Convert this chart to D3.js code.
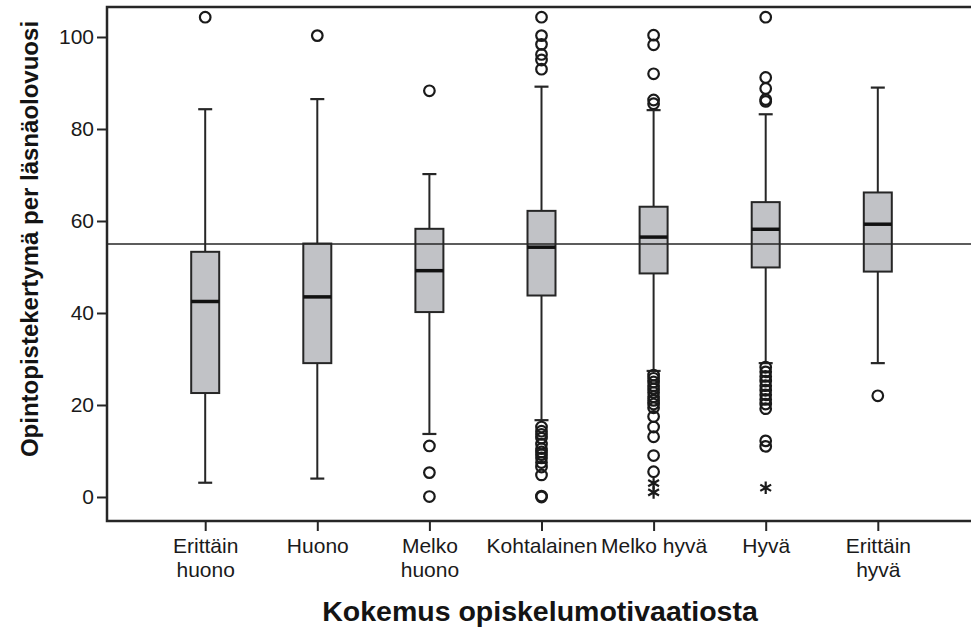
<!DOCTYPE html>
<html>
<head>
<meta charset="utf-8">
<script src="https://cdn.jsdelivr.net/npm/d3@7"></script>
<style>
  body { margin: 0; background: #fff; }
  svg { display: block; }
</style>
</head>
<body>
<svg id="chart" width="971" height="633"></svg>
<script>
// categories (x axis), two-line labels split with "|"
const categories = ["Erittäin|huono", "Huono", "Melko|huono", "Kohtalainen", "Melko hyvä", "Hyvä", "Erittäin|hyvä"];

// box statistics per category
const whiskerLow  = [3.1, 4.0, 13.7, 16.7, 27.4, 29.1, 29.1];
const q1          = [22.6, 29.1, 40.2, 43.8, 48.6, 49.9, 49.0];
const median      = [42.5, 43.5, 49.2, 54.3, 56.5, 58.2, 59.3];
const q3          = [53.3, 55.1, 58.3, 62.2, 63.1, 64.1, 66.2];
const whiskerHigh = [84.3, 86.5, 70.2, 89.2, 84.1, 83.2, 89.0];

// outliers (circles) and extremes (stars)
const outliers = [
  [104.3],
  [100.3],
  [88.3, 11.1, 5.3, 0.1],
  [104.3, 100.3, 98.4, 96.2, 95.0, 93.0,
   15.2, 14.3, 13.6, 12.8, 11.5, 10.5, 9.8, 9.2, 8.5, 7.5, 6.5, 4.8, 0.2, 0],
  [100.4, 98.3, 92.0, 86.3, 85.5,
   26.5, 25.8, 25.0, 24.2, 23.5, 22.7, 21.8, 21.0, 20.2, 19.4, 17.5, 15.2, 13.1, 9.0, 5.5],
  [104.3, 91.2, 88.8, 86.4, 86.0,
   28.2, 27.2, 26.2, 25.2, 24.2, 23.2, 22.2, 21.2, 20.2, 19.2, 12.2, 11.0],
  [22.0]
];
const extremes = [[], [], [], [], [3.0, 1.0], [2.0], []];

const referenceValue = 55;
const yTicks = [0, 20, 40, 60, 80, 100];

const svg = d3.select("#chart");
const m = { left: 107, top: 7, bottom: 521, right: 971 };

const x = d3.scalePoint()
  .domain(categories)
  .range([m.left, 976])
  .padding(0.876);

const y = d3.scaleLinear()
  .domain([-5.22, 106.52])
  .range([m.bottom, m.top]);

const boxW = 28, capW = 14;
const ink = "#262626";

const boxes = svg.append("g").selectAll("g")
  .data(categories)
  .join("g")
  .attr("transform", d => `translate(${x(d)},0)`);

// whiskers
boxes.append("line")
  .attr("y1", (d, i) => y(whiskerLow[i])).attr("y2", (d, i) => y(q1[i]))
  .attr("stroke", ink).attr("stroke-width", 2);
boxes.append("line")
  .attr("y1", (d, i) => y(q3[i])).attr("y2", (d, i) => y(whiskerHigh[i]))
  .attr("stroke", ink).attr("stroke-width", 2);
boxes.append("line")
  .attr("x1", -capW / 2).attr("x2", capW / 2)
  .attr("y1", (d, i) => y(whiskerLow[i])).attr("y2", (d, i) => y(whiskerLow[i]))
  .attr("stroke", ink).attr("stroke-width", 2.2);
boxes.append("line")
  .attr("x1", -capW / 2).attr("x2", capW / 2)
  .attr("y1", (d, i) => y(whiskerHigh[i])).attr("y2", (d, i) => y(whiskerHigh[i]))
  .attr("stroke", ink).attr("stroke-width", 2.2);

// boxes
boxes.append("rect")
  .attr("x", -boxW / 2).attr("width", boxW)
  .attr("y", (d, i) => y(q3[i]))
  .attr("height", (d, i) => y(q1[i]) - y(q3[i]))
  .attr("fill", "#c1c2c6")
  .attr("stroke", ink).attr("stroke-width", 2);

// reference line, drawn over the boxes
svg.append("line")
  .attr("x1", m.left).attr("x2", m.right)
  .attr("y1", y(referenceValue)).attr("y2", y(referenceValue))
  .attr("stroke", ink).attr("stroke-width", 1.7);

// medians
boxes.append("line")
  .attr("x1", -boxW / 2).attr("x2", boxW / 2)
  .attr("y1", (d, i) => y(median[i])).attr("y2", (d, i) => y(median[i]))
  .attr("stroke", "#111").attr("stroke-width", 3.5);

// outliers
boxes.selectAll("circle")
  .data((d, i) => outliers[i])
  .join("circle")
  .attr("cy", v => y(v))
  .attr("r", 5.3)
  .attr("fill", "none")
  .attr("stroke", "#1a1a1a").attr("stroke-width", 2.2);

const star = d3.symbol().type(d3.symbolAsterisk).size(110);
boxes.selectAll("path.star")
  .data((d, i) => extremes[i])
  .join("path")
  .attr("class", "star")
  .attr("d", star)
  .attr("transform", v => `translate(0,${y(v)})`)
  .attr("fill", "none")
  .attr("stroke", "#1a1a1a").attr("stroke-width", 2.2);

// frame
svg.append("path")
  .attr("d", `M${m.right},${m.top}H${m.left}V${m.bottom}H${m.right}`)
  .attr("fill", "none")
  .attr("stroke", ink).attr("stroke-width", 2.5);

// y axis
const yAxis = svg.append("g")
  .attr("transform", `translate(${m.left},0)`)
  .call(d3.axisLeft(y).tickValues(yTicks).tickSize(10).tickPadding(3));
yAxis.select(".domain").remove();
yAxis.selectAll(".tick line").attr("stroke", ink).attr("stroke-width", 2);
yAxis.selectAll(".tick text")
  .attr("fill", "#1a1a1a")
  .style("font-family", "'Liberation Sans', Arial, sans-serif")
  .style("font-size", "21px");

// x axis
const xAxis = svg.append("g")
  .attr("transform", `translate(0,${m.bottom})`)
  .call(d3.axisBottom(x).tickSize(10).tickFormat(""));
xAxis.select(".domain").remove();
xAxis.selectAll(".tick line").attr("stroke", ink).attr("stroke-width", 2);
xAxis.selectAll(".tick").each(function (d) {
  const t = d3.select(this).append("text")
    .attr("fill", "#1a1a1a")
    .attr("text-anchor", "middle")
    .style("font-family", "'Liberation Sans Narrow', 'Arial Narrow', 'Liberation Sans', sans-serif")
    .style("font-size", "21px");
  d.split("|").forEach((line, k) => {
    t.append("tspan").attr("x", 0).attr("y", 32 + k * 24).text(line);
  });
});

// axis titles
svg.append("text")
  .attr("transform", `translate(38,${(m.top + m.bottom) / 2 - 25}) rotate(-90)`)
  .attr("text-anchor", "middle")
  .attr("fill", "#141414")
  .style("font-family", "'Liberation Sans', Arial, sans-serif")
  .style("font-weight", "bold")
  .style("font-size", "24px")
  .text("Opintopistekertymä per läsnäolovuosi");

svg.append("text")
  .attr("x", 540).attr("y", 621)
  .attr("text-anchor", "middle")
  .attr("fill", "#141414")
  .style("font-family", "'Liberation Sans', Arial, sans-serif")
  .style("font-weight", "bold")
  .style("font-size", "28.5px")
  .text("Kokemus opiskelumotivaatiosta");
</script>
</body>
</html>
